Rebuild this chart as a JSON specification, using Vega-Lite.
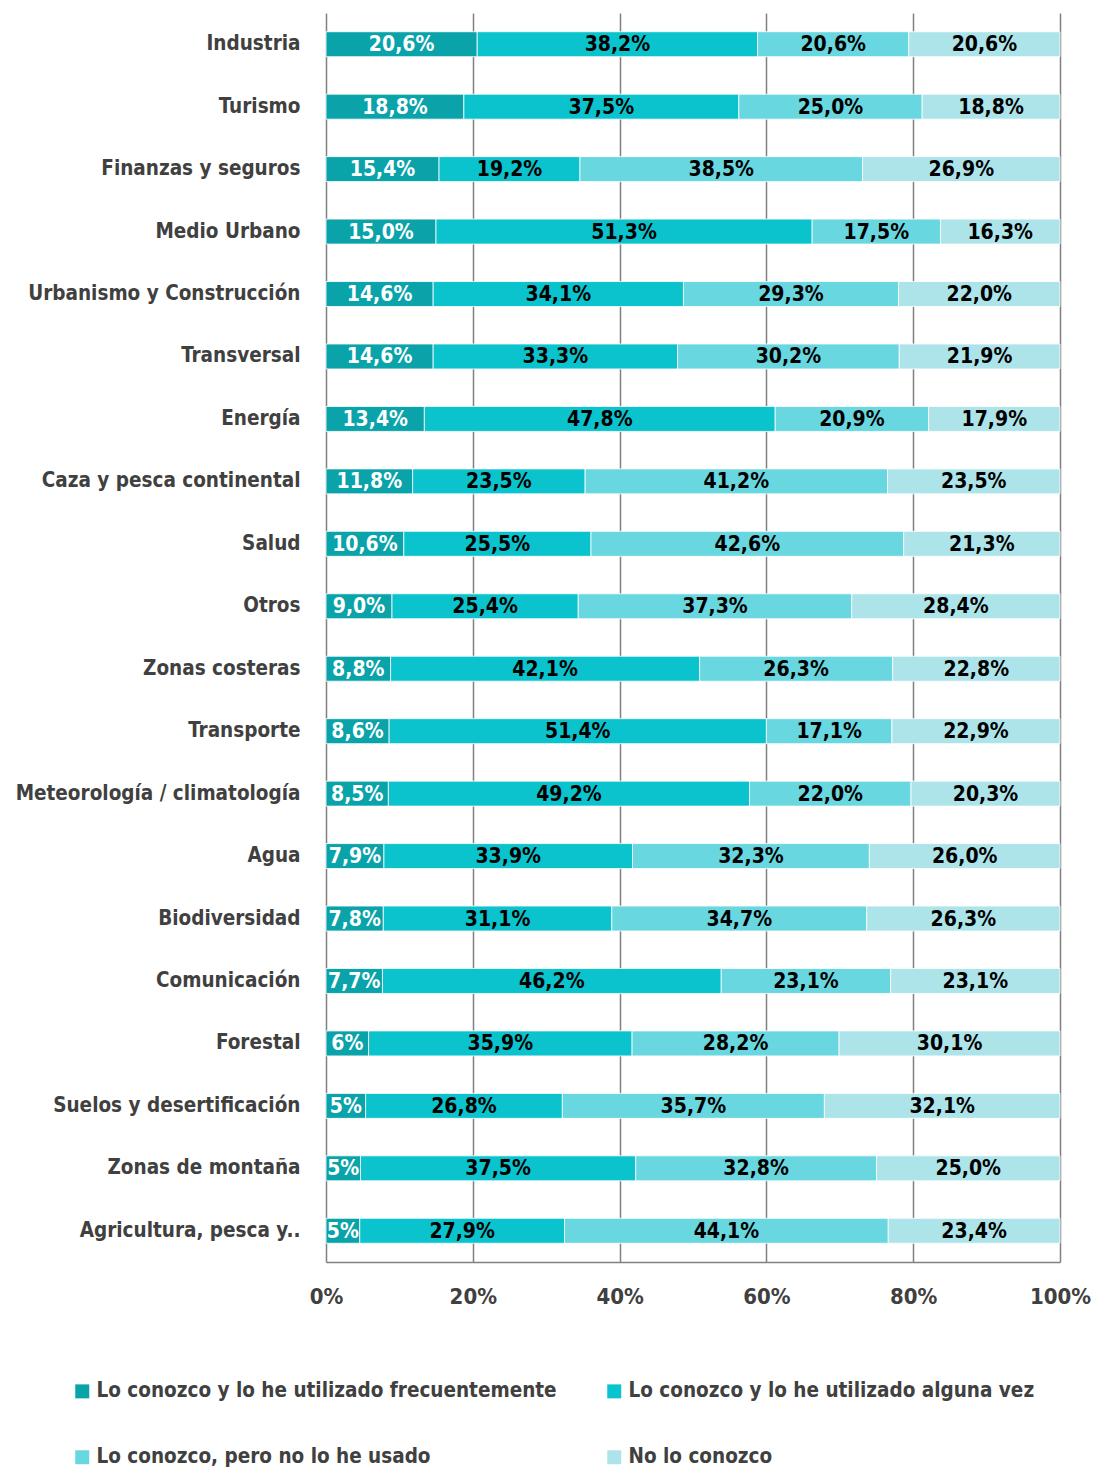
{
  "$schema": "https://vega.github.io/schema/vega-lite/v6.json",
  "autosize": "none",
  "width": 734,
  "height": 1249,
  "padding": {"left": 326, "top": 13, "right": 35, "bottom": 210},
  "background": "white",
  "config": {
    "view": {"stroke": null},
    "font": "DejaVu Sans Condensed, DejaVu Sans"
  },
  "data": {
    "values": [
      {"cat": "Industria", "serie": "Lo conozco y lo he utilizado frecuentemente", "k": 1, "v": 20.6, "lab": "20,6%"},
      {"cat": "Industria", "serie": "Lo conozco y lo he utilizado alguna vez", "k": 2, "v": 38.2, "lab": "38,2%"},
      {"cat": "Industria", "serie": "Lo conozco, pero no lo he usado", "k": 3, "v": 20.6, "lab": "20,6%"},
      {"cat": "Industria", "serie": "No lo conozco", "k": 4, "v": 20.6, "lab": "20,6%"},
      {"cat": "Turismo", "serie": "Lo conozco y lo he utilizado frecuentemente", "k": 1, "v": 18.8, "lab": "18,8%"},
      {"cat": "Turismo", "serie": "Lo conozco y lo he utilizado alguna vez", "k": 2, "v": 37.5, "lab": "37,5%"},
      {"cat": "Turismo", "serie": "Lo conozco, pero no lo he usado", "k": 3, "v": 25.0, "lab": "25,0%"},
      {"cat": "Turismo", "serie": "No lo conozco", "k": 4, "v": 18.8, "lab": "18,8%"},
      {"cat": "Finanzas y seguros", "serie": "Lo conozco y lo he utilizado frecuentemente", "k": 1, "v": 15.4, "lab": "15,4%"},
      {"cat": "Finanzas y seguros", "serie": "Lo conozco y lo he utilizado alguna vez", "k": 2, "v": 19.2, "lab": "19,2%"},
      {"cat": "Finanzas y seguros", "serie": "Lo conozco, pero no lo he usado", "k": 3, "v": 38.5, "lab": "38,5%"},
      {"cat": "Finanzas y seguros", "serie": "No lo conozco", "k": 4, "v": 26.9, "lab": "26,9%"},
      {"cat": "Medio Urbano", "serie": "Lo conozco y lo he utilizado frecuentemente", "k": 1, "v": 15.0, "lab": "15,0%"},
      {"cat": "Medio Urbano", "serie": "Lo conozco y lo he utilizado alguna vez", "k": 2, "v": 51.3, "lab": "51,3%"},
      {"cat": "Medio Urbano", "serie": "Lo conozco, pero no lo he usado", "k": 3, "v": 17.5, "lab": "17,5%"},
      {"cat": "Medio Urbano", "serie": "No lo conozco", "k": 4, "v": 16.3, "lab": "16,3%"},
      {"cat": "Urbanismo y Construcción", "serie": "Lo conozco y lo he utilizado frecuentemente", "k": 1, "v": 14.6, "lab": "14,6%"},
      {"cat": "Urbanismo y Construcción", "serie": "Lo conozco y lo he utilizado alguna vez", "k": 2, "v": 34.1, "lab": "34,1%"},
      {"cat": "Urbanismo y Construcción", "serie": "Lo conozco, pero no lo he usado", "k": 3, "v": 29.3, "lab": "29,3%"},
      {"cat": "Urbanismo y Construcción", "serie": "No lo conozco", "k": 4, "v": 22.0, "lab": "22,0%"},
      {"cat": "Transversal", "serie": "Lo conozco y lo he utilizado frecuentemente", "k": 1, "v": 14.6, "lab": "14,6%"},
      {"cat": "Transversal", "serie": "Lo conozco y lo he utilizado alguna vez", "k": 2, "v": 33.3, "lab": "33,3%"},
      {"cat": "Transversal", "serie": "Lo conozco, pero no lo he usado", "k": 3, "v": 30.2, "lab": "30,2%"},
      {"cat": "Transversal", "serie": "No lo conozco", "k": 4, "v": 21.9, "lab": "21,9%"},
      {"cat": "Energía", "serie": "Lo conozco y lo he utilizado frecuentemente", "k": 1, "v": 13.4, "lab": "13,4%"},
      {"cat": "Energía", "serie": "Lo conozco y lo he utilizado alguna vez", "k": 2, "v": 47.8, "lab": "47,8%"},
      {"cat": "Energía", "serie": "Lo conozco, pero no lo he usado", "k": 3, "v": 20.9, "lab": "20,9%"},
      {"cat": "Energía", "serie": "No lo conozco", "k": 4, "v": 17.9, "lab": "17,9%"},
      {"cat": "Caza y pesca continental", "serie": "Lo conozco y lo he utilizado frecuentemente", "k": 1, "v": 11.8, "lab": "11,8%"},
      {"cat": "Caza y pesca continental", "serie": "Lo conozco y lo he utilizado alguna vez", "k": 2, "v": 23.5, "lab": "23,5%"},
      {"cat": "Caza y pesca continental", "serie": "Lo conozco, pero no lo he usado", "k": 3, "v": 41.2, "lab": "41,2%"},
      {"cat": "Caza y pesca continental", "serie": "No lo conozco", "k": 4, "v": 23.5, "lab": "23,5%"},
      {"cat": "Salud", "serie": "Lo conozco y lo he utilizado frecuentemente", "k": 1, "v": 10.6, "lab": "10,6%"},
      {"cat": "Salud", "serie": "Lo conozco y lo he utilizado alguna vez", "k": 2, "v": 25.5, "lab": "25,5%"},
      {"cat": "Salud", "serie": "Lo conozco, pero no lo he usado", "k": 3, "v": 42.6, "lab": "42,6%"},
      {"cat": "Salud", "serie": "No lo conozco", "k": 4, "v": 21.3, "lab": "21,3%"},
      {"cat": "Otros", "serie": "Lo conozco y lo he utilizado frecuentemente", "k": 1, "v": 9.0, "lab": "9,0%"},
      {"cat": "Otros", "serie": "Lo conozco y lo he utilizado alguna vez", "k": 2, "v": 25.4, "lab": "25,4%"},
      {"cat": "Otros", "serie": "Lo conozco, pero no lo he usado", "k": 3, "v": 37.3, "lab": "37,3%"},
      {"cat": "Otros", "serie": "No lo conozco", "k": 4, "v": 28.4, "lab": "28,4%"},
      {"cat": "Zonas costeras", "serie": "Lo conozco y lo he utilizado frecuentemente", "k": 1, "v": 8.8, "lab": "8,8%"},
      {"cat": "Zonas costeras", "serie": "Lo conozco y lo he utilizado alguna vez", "k": 2, "v": 42.1, "lab": "42,1%"},
      {"cat": "Zonas costeras", "serie": "Lo conozco, pero no lo he usado", "k": 3, "v": 26.3, "lab": "26,3%"},
      {"cat": "Zonas costeras", "serie": "No lo conozco", "k": 4, "v": 22.8, "lab": "22,8%"},
      {"cat": "Transporte", "serie": "Lo conozco y lo he utilizado frecuentemente", "k": 1, "v": 8.6, "lab": "8,6%"},
      {"cat": "Transporte", "serie": "Lo conozco y lo he utilizado alguna vez", "k": 2, "v": 51.4, "lab": "51,4%"},
      {"cat": "Transporte", "serie": "Lo conozco, pero no lo he usado", "k": 3, "v": 17.1, "lab": "17,1%"},
      {"cat": "Transporte", "serie": "No lo conozco", "k": 4, "v": 22.9, "lab": "22,9%"},
      {"cat": "Meteorología / climatología", "serie": "Lo conozco y lo he utilizado frecuentemente", "k": 1, "v": 8.5, "lab": "8,5%"},
      {"cat": "Meteorología / climatología", "serie": "Lo conozco y lo he utilizado alguna vez", "k": 2, "v": 49.2, "lab": "49,2%"},
      {"cat": "Meteorología / climatología", "serie": "Lo conozco, pero no lo he usado", "k": 3, "v": 22.0, "lab": "22,0%"},
      {"cat": "Meteorología / climatología", "serie": "No lo conozco", "k": 4, "v": 20.3, "lab": "20,3%"},
      {"cat": "Agua", "serie": "Lo conozco y lo he utilizado frecuentemente", "k": 1, "v": 7.9, "lab": "7,9%"},
      {"cat": "Agua", "serie": "Lo conozco y lo he utilizado alguna vez", "k": 2, "v": 33.9, "lab": "33,9%"},
      {"cat": "Agua", "serie": "Lo conozco, pero no lo he usado", "k": 3, "v": 32.3, "lab": "32,3%"},
      {"cat": "Agua", "serie": "No lo conozco", "k": 4, "v": 26.0, "lab": "26,0%"},
      {"cat": "Biodiversidad", "serie": "Lo conozco y lo he utilizado frecuentemente", "k": 1, "v": 7.8, "lab": "7,8%"},
      {"cat": "Biodiversidad", "serie": "Lo conozco y lo he utilizado alguna vez", "k": 2, "v": 31.1, "lab": "31,1%"},
      {"cat": "Biodiversidad", "serie": "Lo conozco, pero no lo he usado", "k": 3, "v": 34.7, "lab": "34,7%"},
      {"cat": "Biodiversidad", "serie": "No lo conozco", "k": 4, "v": 26.3, "lab": "26,3%"},
      {"cat": "Comunicación", "serie": "Lo conozco y lo he utilizado frecuentemente", "k": 1, "v": 7.7, "lab": "7,7%"},
      {"cat": "Comunicación", "serie": "Lo conozco y lo he utilizado alguna vez", "k": 2, "v": 46.2, "lab": "46,2%"},
      {"cat": "Comunicación", "serie": "Lo conozco, pero no lo he usado", "k": 3, "v": 23.1, "lab": "23,1%"},
      {"cat": "Comunicación", "serie": "No lo conozco", "k": 4, "v": 23.1, "lab": "23,1%"},
      {"cat": "Forestal", "serie": "Lo conozco y lo he utilizado frecuentemente", "k": 1, "v": 5.8, "lab": "6%"},
      {"cat": "Forestal", "serie": "Lo conozco y lo he utilizado alguna vez", "k": 2, "v": 35.9, "lab": "35,9%"},
      {"cat": "Forestal", "serie": "Lo conozco, pero no lo he usado", "k": 3, "v": 28.2, "lab": "28,2%"},
      {"cat": "Forestal", "serie": "No lo conozco", "k": 4, "v": 30.1, "lab": "30,1%"},
      {"cat": "Suelos y desertificación", "serie": "Lo conozco y lo he utilizado frecuentemente", "k": 1, "v": 5.4, "lab": "5%"},
      {"cat": "Suelos y desertificación", "serie": "Lo conozco y lo he utilizado alguna vez", "k": 2, "v": 26.8, "lab": "26,8%"},
      {"cat": "Suelos y desertificación", "serie": "Lo conozco, pero no lo he usado", "k": 3, "v": 35.7, "lab": "35,7%"},
      {"cat": "Suelos y desertificación", "serie": "No lo conozco", "k": 4, "v": 32.1, "lab": "32,1%"},
      {"cat": "Zonas de montaña", "serie": "Lo conozco y lo he utilizado frecuentemente", "k": 1, "v": 4.7, "lab": "5%"},
      {"cat": "Zonas de montaña", "serie": "Lo conozco y lo he utilizado alguna vez", "k": 2, "v": 37.5, "lab": "37,5%"},
      {"cat": "Zonas de montaña", "serie": "Lo conozco, pero no lo he usado", "k": 3, "v": 32.8, "lab": "32,8%"},
      {"cat": "Zonas de montaña", "serie": "No lo conozco", "k": 4, "v": 25.0, "lab": "25,0%"},
      {"cat": "Agricultura, pesca y..", "serie": "Lo conozco y lo he utilizado frecuentemente", "k": 1, "v": 4.6, "lab": "5%"},
      {"cat": "Agricultura, pesca y..", "serie": "Lo conozco y lo he utilizado alguna vez", "k": 2, "v": 27.9, "lab": "27,9%"},
      {"cat": "Agricultura, pesca y..", "serie": "Lo conozco, pero no lo he usado", "k": 3, "v": 44.1, "lab": "44,1%"},
      {"cat": "Agricultura, pesca y..", "serie": "No lo conozco", "k": 4, "v": 23.4, "lab": "23,4%"}
    ]
  },
  "encoding": {
    "y": {
      "field": "cat",
      "type": "nominal",
      "sort": null,
      "title": null,
      "scale": {"paddingInner": 0.6, "paddingOuter": 0.3},
      "axis": {
        "domain": false,
        "ticks": false,
        "grid": false,
        "labelPadding": 26,
        "labelFontSize": 20.5,
        "labelFontWeight": "bold",
        "labelColor": "#404040",
        "labelLimit": 0
      }
    }
  },
  "layer": [
    {
      "mark": {"type": "bar", "stroke": "white", "strokeWidth": 0.8},
      "encoding": {
        "x": {
          "field": "v",
          "type": "quantitative",
          "stack": "normalize",
          "title": null,
          "scale": {"domain": [0, 1]},
          "axis": {
            "values": [0, 0.2, 0.4, 0.6, 0.8, 1],
            "format": "%",
            "grid": true,
            "gridColor": "#808080",
            "gridWidth": 1.5,
            "domainColor": "#808080",
            "domainWidth": 1.5,
            "ticks": false,
            "labelFlush": false,
            "labelPadding": 24,
            "labelFontSize": 22,
            "labelFontWeight": "bold",
            "labelColor": "#404040"
          }
        },
        "color": {
          "field": "serie",
          "type": "nominal",
          "sort": null,
          "scale": {
            "domain": [
              "Lo conozco y lo he utilizado frecuentemente",
              "Lo conozco y lo he utilizado alguna vez",
              "Lo conozco, pero no lo he usado",
              "No lo conozco"
            ],
            "range": ["#0aa3aa", "#0bc3cd", "#68d7df", "#ade4ea"]
          },
          "legend": {
            "title": null,
            "orient": "none",
            "direction": "horizontal",
            "legendX": -254,
            "legendY": 1368,
            "columns": 2,
            "columnPadding": 47,
            "rowPadding": 45,
            "symbolType": "square",
            "symbolSize": 196,
            "symbolStrokeWidth": 0,
            "labelFontSize": 20.5,
            "labelFontWeight": "bold",
            "labelColor": "#404040",
            "labelOffset": 4,
            "labelLimit": 0
          }
        },
        "order": {"field": "k", "type": "quantitative"}
      }
    },
    {
      "mark": {"type": "text", "fontSize": 21, "fontWeight": "bold", "baseline": "middle", "align": "center", "dy": 1},
      "encoding": {
        "x": {"field": "v", "type": "quantitative", "stack": "normalize", "bandPosition": 0.5},
        "detail": {"field": "serie"},
        "order": {"field": "k", "type": "quantitative"},
        "text": {"field": "lab"},
        "color": {"condition": {"test": "datum.k === 1", "value": "white"}, "value": "black"}
      }
    }
  ]
}
